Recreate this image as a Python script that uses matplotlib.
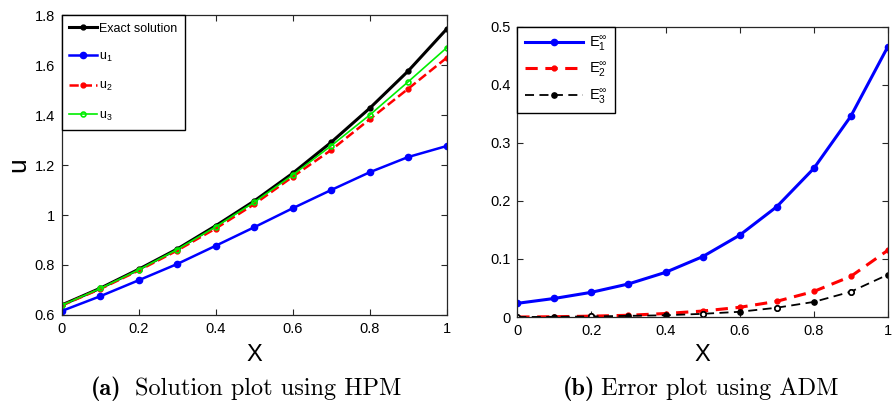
import numpy as np
import matplotlib.pyplot as plt

plt.rcParams['font.family'] = ['Liberation Sans', 'DejaVu Sans']
plt.rcParams['mathtext.fontset'] = 'custom'
plt.rcParams['mathtext.rm'] = 'Liberation Sans'
plt.rcParams['mathtext.it'] = 'Liberation Sans'
plt.rcParams['mathtext.bf'] = 'Liberation Sans:bold'

x = [0, 0.1, 0.2, 0.3, 0.4, 0.5, 0.6, 0.7, 0.8, 0.9, 1.0]

# (a) HPM solutions
exact = [0.640, 0.707, 0.783, 0.864, 0.957, 1.056, 1.167, 1.291, 1.427, 1.576, 1.744]
u1 = [0.616, 0.675, 0.739, 0.804, 0.877, 0.951, 1.027, 1.100, 1.171, 1.232, 1.276]
u2 = [0.638, 0.704, 0.778, 0.858, 0.946, 1.043, 1.153, 1.260, 1.383, 1.505, 1.629]
u3 = [0.639, 0.706, 0.781, 0.862, 0.953, 1.051, 1.160, 1.277, 1.400, 1.533, 1.669]

# (b) ADM errors
E1 = [0.0236, 0.032, 0.0426, 0.057, 0.077, 0.104, 0.141, 0.190, 0.256, 0.346, 0.466]
E2 = [0.0, 0.0005, 0.0015, 0.003, 0.006, 0.0103, 0.0167, 0.027, 0.044, 0.070, 0.115]
E3 = [0.0, 0.0003, 0.001, 0.002, 0.003, 0.0055, 0.009, 0.016, 0.026, 0.0436, 0.073]
E3_open = [0, 2, 5, 7, 9]

axcol = '#262626'

fig = plt.figure(figsize=(8.95, 4.08), dpi=100)
ax1 = fig.add_axes([0.069, 0.228, 0.430, 0.735])
ax2 = fig.add_axes([0.578, 0.223, 0.414, 0.711])

ax1.plot(x, exact, '-', color='k', lw=2.2, marker='o', ms=3.5, label='Exact solution')
ax1.plot(x, u1, '-', color='b', lw=1.8, marker='o', ms=4.5, label='u$_1$')
ax1.plot(x, u2, '--', color='r', lw=1.8, marker='o', ms=3.5, label='u$_2$')
ax1.plot(x, u3, '-', color='#00ee00', lw=1.2, marker='o', ms=3.5, mfc='none', mew=1.2, label='u$_3$')
ax1.set_xlim(0, 1)
ax1.set_ylim(0.6, 1.8)
ax1.set_xticks([0, 0.2, 0.4, 0.6, 0.8, 1])
ax1.set_xticklabels(['0', '0.2', '0.4', '0.6', '0.8', '1'])
ax1.set_yticks([0.6, 0.8, 1.0, 1.2, 1.4, 1.6, 1.8])
ax1.set_yticklabels(['0.6', '0.8', '1', '1.2', '1.4', '1.6', '1.8'])
ax1.set_xlabel('X', fontsize=17, labelpad=6)
ax1.set_ylabel('u', fontsize=19, labelpad=3)
leg1 = ax1.legend(loc='upper left', fontsize=9, labelspacing=1.3, handlelength=2.2,
                  handletextpad=0.2, borderaxespad=0, borderpad=0.6, fancybox=False,
                  framealpha=1, edgecolor='k')
leg1.get_frame().set_linewidth(1.0)

ax2.plot(x, E1, '-', color='b', lw=2.2, marker='o', ms=4.5, label=r'E$_1^{\infty}$')
ax2.plot(x, E2, '--', color='r', lw=2.2, marker='o', ms=3.5, dashes=(4, 2.5), label=r'E$_2^{\infty}$')
ax2.plot(x, E3, '--', color='k', lw=1.3, marker='o', ms=3.8, dashes=(5, 3), label=r'E$_3^{\infty}$')
ax2.plot([x[i] for i in E3_open], [E3[i] for i in E3_open], 'o', color='k',
         mfc='white', ms=3.8, mew=1.2)
ax2.set_xlim(0, 1)
ax2.set_ylim(0, 0.5)
ax2.set_xticks([0, 0.2, 0.4, 0.6, 0.8, 1])
ax2.set_xticklabels(['0', '0.2', '0.4', '0.6', '0.8', '1'])
ax2.set_yticks([0, 0.1, 0.2, 0.3, 0.4, 0.5])
ax2.set_yticklabels(['0', '0.1', '0.2', '0.3', '0.4', '0.5'])
ax2.set_xlabel('X', fontsize=17, labelpad=4)
leg2 = ax2.legend(loc='upper left', fontsize=10.5, labelspacing=0.55, handlelength=4.0,
                  handletextpad=0.4, borderaxespad=0, borderpad=0.5, fancybox=False,
                  framealpha=1, edgecolor='k')
leg2.get_frame().set_linewidth(1.0)

for ax in (ax1, ax2):
    ax.tick_params(direction='in', top=True, right=True, labelsize=10.5,
                   colors=axcol, labelcolor='k', length=4, pad=5)
    for s in ax.spines.values():
        s.set_color(axcol)
        s.set_linewidth(0.9)

# captions: bold label in cmb10, rest in cmr10
for xl, xr, tag, cap in [(0.136, 0.151, '(a)', 'Solution plot using HPM'),
                         (0.665, 0.672, '(b)', 'Error plot using ADM')]:
    fig.text(xl, 0.048, tag, ha='right', va='center', fontsize=17.5, family='cmb10')
    fig.text(xr, 0.048, cap, ha='left', va='center', fontsize=17.5, family='cmr10')

fig.savefig('out.png', dpi=100)
